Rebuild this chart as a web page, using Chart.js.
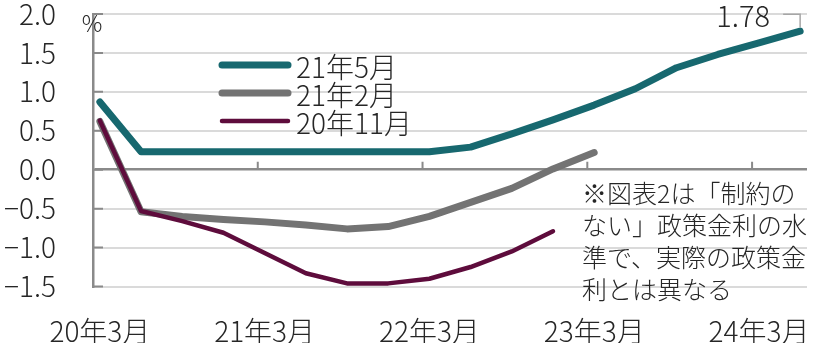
<!DOCTYPE html>
<html lang="ja">
<head>
<meta charset="utf-8">
<script src="https://cdn.jsdelivr.net/npm/chart.js@4.4.1/dist/chart.umd.min.js"></script>
<style>
html,body{margin:0;padding:0;background:#fff;}
#wrap{width:814px;height:343px;}
</style>
</head>
<body>
<div id="wrap"><canvas id="c" width="814" height="343"></canvas></div>
<script>
// quarterly path, 20年3月 .. 24年6月
const quarters = ['20年3月','20年6月','20年9月','20年12月','21年3月','21年6月','21年9月','21年12月',
  '22年3月','22年6月','22年9月','22年12月','23年3月','23年6月','23年9月','23年12月','24年3月','24年6月'];
const may21 = [0.87,0.23,0.23,0.23,0.23,0.23,0.23,0.23,0.23,0.29,0.46,0.64,0.83,1.04,1.31,1.48,1.63,1.78];
const feb21 = [0.62,-0.54,-0.60,-0.64,-0.67,-0.71,-0.76,-0.73,-0.60,-0.42,-0.24,0.01,0.22];
const nov20 = [0.63,-0.53,-0.66,-0.81,-1.07,-1.33,-1.46,-1.46,-1.40,-1.25,-1.05,-0.79];
const seriesNames = ['21年5月','21年2月','20年11月'];
const xTickMonths = [0,12,24,36,48];
const xTickLabels = ['20年3月','21年3月','22年3月','23年3月','24年3月'];
const yTicks = [2.0,1.5,1.0,0.5,0,-0.5,-1.0,-1.5];
const noteLines = ['※図表2は「制約の','ない」政策金利の水','準で、実際の政策金','利とは異なる'];

const FONT = "'Liberation Sans Narrow', 'Noto Sans CJK JP', sans-serif";
const TEXT = '#262626';
const AXIS = '#8a8a8a';
const GRID = '#dadada';
const colors = ['#17686f','#737373','#5e0c3c'];
const widths = [7,7,4.5];

// months since 20年3月, points (and labels) sit mid-month
const monthOf = i => i * 3 + 0.5;
const toPoints = arr => arr.map((v, i) => ({x: monthOf(i), y: v}));

const decor = {
  id: 'decor',
  beforeDatasetsDraw(chart) {
    const {ctx, chartArea: a, scales: {x, y}} = chart;
    ctx.save();
    ctx.strokeStyle = AXIS;
    ctx.lineWidth = 2;
    ctx.beginPath();
    yTicks.forEach(v => {
      const py = y.getPixelForValue(v);
      ctx.moveTo(a.left, py); ctx.lineTo(a.left + 10, py);
    });
    const y0 = y.getPixelForValue(0);
    xTickMonths.slice(1).forEach(m => {
      const px = x.getPixelForValue(m);
      ctx.moveTo(px, y0); ctx.lineTo(px, y0 - 8);
    });
    ctx.stroke();
    ctx.restore();
  },
  afterDraw(chart) {
    const {ctx, scales: {x, y}} = chart;
    ctx.save();
    ctx.fillStyle = TEXT;
    ctx.textBaseline = 'middle';

    // legend
    chart.data.datasets.forEach((ds, i) => {
      const ly = 65 + i * 28;
      ctx.strokeStyle = ds.borderColor;
      ctx.lineWidth = ds.borderWidth;
      ctx.lineCap = 'round';
      ctx.beginPath();
      ctx.moveTo(222, ly); ctx.lineTo(288, ly);
      ctx.stroke();
      ctx.font = '300 28px ' + FONT;
      ctx.textAlign = 'left';
      ctx.fillText(ds.label, 296, ly + 2);
    });

    // unit
    ctx.font = '300 23px ' + FONT;
    ctx.textAlign = 'center';
    ctx.fillText('%', 92, 23);

    // last value label with leader
    const last = may21.length - 1;
    const px = x.getPixelForValue(monthOf(last));
    const py = y.getPixelForValue(may21[last]);
    ctx.strokeStyle = '#a6a6a6';
    ctx.lineWidth = 1.5;
    ctx.lineCap = 'butt';
    ctx.beginPath();
    ctx.moveTo(px - 17, py - 17); ctx.lineTo(px, py - 17); ctx.lineTo(px, py - 4);
    ctx.stroke();
    ctx.font = '300 29px ' + FONT;
    ctx.textAlign = 'right';
    ctx.fillText(may21[last].toFixed(2), px - 30, py - 15);

    // note
    ctx.font = '300 25px ' + FONT;
    ctx.textAlign = 'left';
    noteLines.forEach((t, i) => ctx.fillText(t, 582, 193 + i * 32));
    ctx.restore();
  }
};

new Chart(document.getElementById('c'), {
  type: 'line',
  data: {
    datasets: [may21, feb21, nov20].map((arr, i) => ({
      label: seriesNames[i],
      data: toPoints(arr),
      borderColor: colors[i],
      borderWidth: widths[i],
      borderCapStyle: 'round',
      borderJoinStyle: 'round',
      pointRadius: 0,
      tension: 0,
      fill: false,
      clip: false,
      order: i === 2 ? 0 : i + 1
    }))
  },
  options: {
    responsive: false,
    animation: false,
    devicePixelRatio: 1,
    layout: {padding: {left: 0, right: 7, top: 0, bottom: 0}},
    plugins: {legend: {display: false}, tooltip: {enabled: false}},
    scales: {
      x: {
        type: 'linear',
        min: 0,
        max: 52,
        afterFit(s) { s.height = 56.5; s.paddingLeft = 0; s.paddingRight = 0; },
        afterBuildTicks(s) { s.ticks = xTickMonths.map(v => ({value: v + 0.5})); },
        grid: {display: false, drawTicks: false},
        border: {display: false},
        ticks: {
          padding: 31,
          color: TEXT,
          font: {family: FONT, size: 28, weight: 300, lineHeight: 1},
          maxRotation: 0,
          autoSkip: false,
          callback: v => xTickLabels[xTickMonths.indexOf(v - 0.5)] || ''
        }
      },
      y: {
        min: -1.5,
        max: 2.0,
        // keep the wide label gap from pushing the plot down
        afterFit(s) { s.width = 93; s.paddingTop = 14; s.paddingBottom = 14; },
        grid: {
          drawTicks: false,
          color: c => c.tick.value === 0 ? AXIS : GRID,
          lineWidth: c => c.tick.value === 0 ? 2.5 : 2
        },
        border: {display: true, color: AXIS, width: 2.5},
        ticks: {
          stepSize: 0.5,
          padding: 37,
          color: TEXT,
          font: {family: FONT, size: 28, weight: 300, lineHeight: 1.1},
          callback: v => (v < 0 ? '−' : '') + Math.abs(v).toFixed(1)
        }
      }
    }
  },
  plugins: [decor]
});
</script>
</body>
</html>
